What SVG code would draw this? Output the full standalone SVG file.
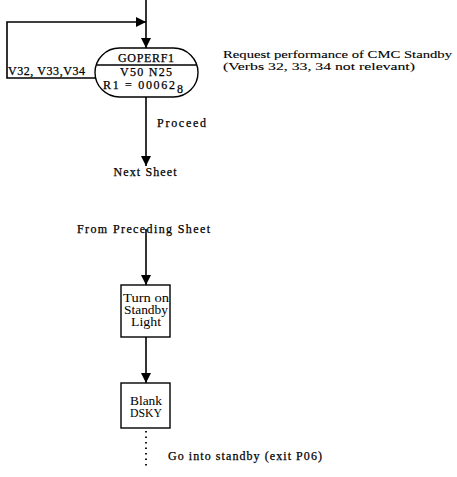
<svg xmlns="http://www.w3.org/2000/svg" width="457" height="477" viewBox="0 0 457 477">
<style>
.ln{stroke:#000;stroke-width:1.6;fill:none}
.bx{stroke:#000;stroke-width:1.4;fill:#fff}
.t{font-family:"Liberation Serif",serif;font-size:12px;fill:#000;stroke:#000;stroke-width:0.25}
.n{font-family:"Liberation Serif",serif;font-size:11px;fill:#000;stroke:#000;stroke-width:0.1}
.s{font-family:"Liberation Serif",serif;font-size:11.5px;fill:#000}
.dot{stroke:#000;stroke-width:1.8;stroke-dasharray:1.5 4;fill:none}
</style>
<defs>
<marker id="ah" viewBox="0 0 10 10" refX="10" refY="5" markerWidth="10" markerHeight="10" markerUnits="userSpaceOnUse" orient="auto">
<path d="M0,0 L10,5 L0,10 z" fill="#000"/>
</marker>
</defs>
<rect width="457" height="477" fill="#fff"/>
<g id="connectors">
<path class="ln" d="M146,0 V48" marker-end="url(#ah)"/>
<path class="ln" d="M96,78 H7 V22 H146" marker-end="url(#ah)"/>
<path class="ln" d="M146,97 V166" marker-end="url(#ah)"/>
<path class="ln" d="M146,229 V285" marker-end="url(#ah)"/>
<path class="ln" d="M146,337 V383" marker-end="url(#ah)"/>
<path class="dot" d="M146,431 V468"/>
</g>
<g id="goperf1">
<rect class="bx" x="95" y="48" width="103" height="49" rx="24.5" ry="24.5"/>
<line class="ln" x1="97" y1="65" x2="196" y2="65" stroke-width="1.2"/>
<text class="t" x="146" y="62" text-anchor="middle" textLength="56">GOPERF1</text>
<text class="t" x="146" y="76" text-anchor="middle" textLength="52">V50 N25</text>
<text class="t" x="103" y="89" textLength="72">R1 = 00062</text>
<text class="t" x="177" y="93" font-size="9">8</text>
</g>
<g id="loop-label">
<text class="t" x="8" y="75" textLength="77">V32, V33,V34</text>
</g>
<g id="note">
<text class="n" x="223" y="58" textLength="229" lengthAdjust="spacingAndGlyphs">Request performance of CMC Standby</text>
<text class="n" x="223" y="70" textLength="192" lengthAdjust="spacingAndGlyphs">(Verbs 32, 33, 34 not relevant)</text>
</g>
<g id="proceed-label">
<text class="t" x="157" y="127" textLength="49">Proceed</text>
</g>
<g id="next-sheet">
<text class="t" x="145" y="176" text-anchor="middle" textLength="63">Next Sheet</text>
</g>
<g id="from-preceding">
<text class="t" x="77" y="233" textLength="133">From Preceding Sheet</text>
</g>
<g id="standby-light">
<rect class="bx" x="121" y="285" width="49" height="52"/>
<text class="s" x="146" y="302" text-anchor="middle" textLength="46" lengthAdjust="spacingAndGlyphs">Turn on</text>
<text class="s" x="146" y="314" text-anchor="middle" textLength="44" lengthAdjust="spacingAndGlyphs">Standby</text>
<text class="s" x="146" y="326" text-anchor="middle" textLength="30" lengthAdjust="spacingAndGlyphs">Light</text>
</g>
<g id="blank-dsky">
<rect class="bx" x="121" y="383" width="49" height="45"/>
<text class="s" x="146" y="405" text-anchor="middle" textLength="32" lengthAdjust="spacingAndGlyphs">Blank</text>
<text class="s" x="146" y="417" text-anchor="middle" textLength="32" lengthAdjust="spacingAndGlyphs">DSKY</text>
</g>
<g id="exit-label">
<text class="t" x="168" y="460" textLength="154">Go into standby (exit P06)</text>
</g>
</svg>
